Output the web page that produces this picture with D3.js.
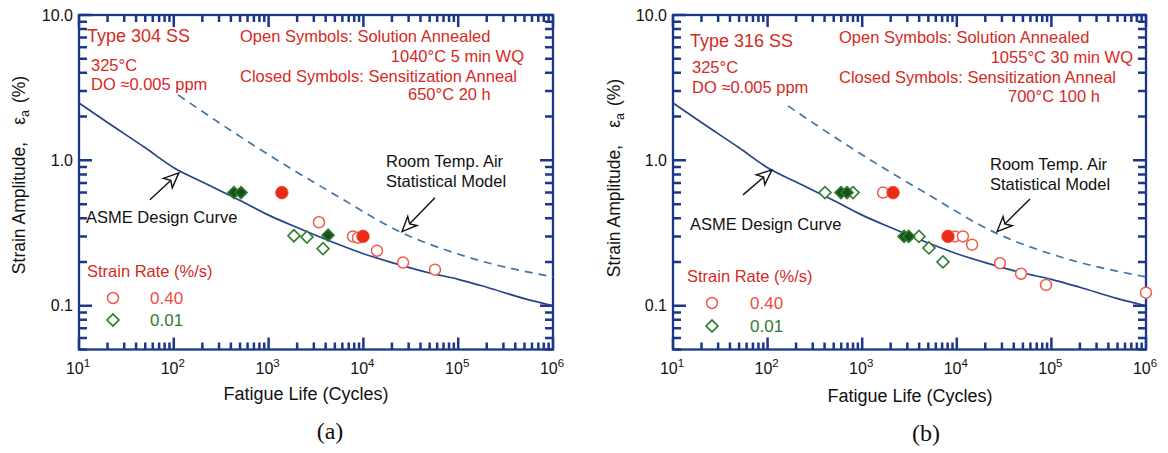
<!DOCTYPE html>
<html>
<head>
<meta charset="utf-8">
<script src="https://cdn.jsdelivr.net/npm/d3@7"></script>
<style>
  body { margin: 0; background: #fff; }
  svg text { font-family: "Liberation Sans", Arial, Helvetica, sans-serif; }
</style>
</head>
<body>
<div id="chart"></div>
<script>
// ---------- data ----------
const xDomain = [10, 1e6];
const yDomain = [0.05, 10];
const xMajorTicks = [10, 100, 1000, 1e4, 1e5, 1e6];
const yMajorTicks = [0.1, 1, 10];
const yTickLabels = ['0.1', '1.0', '10.0'];

// ASME design curve (both panels)
const asmeN   = [10, 20, 50, 100, 200, 500, 1000, 2000, 5000, 1e4, 2e4, 5e4, 1e5, 2e5, 5e5, 1e6];
const asmeEps = [2.48, 1.82, 1.22, 0.89, 0.71, 0.53, 0.42, 0.345, 0.27, 0.228, 0.198, 0.168, 0.152, 0.134, 0.112, 0.10];

// room temp. air statistical model (dashed)
const airN_a   = [111, 421, 1808, 4450, 25500, 133000, 1e6];
const airEps_a = [2.82, 1.57, 0.861, 0.608, 0.318, 0.214, 0.158];
const airN_b   = [164, 421, 1808, 4450, 25500, 133000, 1e6];
const airEps_b = [2.37, 1.57, 0.861, 0.608, 0.318, 0.214, 0.158];

// Type 304 SS
const a304OpenCircN   = [3400, 7760, 8770, 13900, 26200, 56900];
const a304OpenCircEps = [0.375, 0.30, 0.294, 0.239, 0.198, 0.177];
const a304FillCircN   = [1380, 9910];
const a304FillCircEps = [0.60, 0.30];
const a304OpenDiaN    = [1850, 2540, 3750];
const a304OpenDiaEps  = [0.303, 0.297, 0.247];
const a304FillDiaN    = [431, 512, 4240];
const a304FillDiaEps  = [0.60, 0.60, 0.306];

// Type 316 SS
const b316OpenCircN   = [1660, 9580, 11600, 14500, 28600, 47800, 87700, 1e6];
const b316OpenCircEps = [0.60, 0.30, 0.30, 0.263, 0.196, 0.166, 0.139, 0.123];
const b316FillCircN   = [2120, 8070];
const b316FillCircEps = [0.60, 0.30];
const b316OpenDiaN    = [404, 800, 3980, 5080, 7140];
const b316OpenDiaEps  = [0.60, 0.60, 0.30, 0.250, 0.200];
const b316FillDiaN    = [597, 690, 2770, 3100];
const b316FillDiaEps  = [0.60, 0.60, 0.30, 0.30];

const zip = (a, b) => a.map((v, i) => [v, b[i]]);

// ---------- style ----------
const axisColor = '#1a378c';
const asmeColor = '#24438a';
const airColor = '#4474a6';
const redText = '#d42a25';
const openRed = '#ee5a48';
const fillRed = '#ec2b17';
const green = '#2f7d2f';
const darkGreen = '#1b4f1b';

const svg = d3.select('#chart').append('svg')
  .attr('width', 1168).attr('height', 453);

const panels = [
  {
    left: 79, right: 553, top: 15, bottom: 349.5,
    air: zip(airN_a, airEps_a),
    openCirc: zip(a304OpenCircN, a304OpenCircEps), fillCirc: zip(a304FillCircN, a304FillCircEps),
    openDia: zip(a304OpenDiaN, a304OpenDiaEps), fillDia: zip(a304FillDiaN, a304FillDiaEps),
    asmeArrow: [[56, 0.536], [113, 0.82]], airArrow: [[56900, 0.553], [25500, 0.323]],
    texts: [
      { t: 'Type 304 SS', x: 87, y: 42, size: 18, c: redText },
      { t: '325°C', x: 91, y: 71, c: redText },
      { t: 'DO ≈0.005 ppm', x: 91, y: 90, c: redText },
      { t: 'Open Symbols: Solution Annealed', x: 240, y: 42, c: redText },
      { t: '1040°C 5 min WQ', x: 524, y: 62, c: redText, anchor: 'end' },
      { t: 'Closed Symbols: Sensitization Anneal', x: 240, y: 82, c: redText },
      { t: '650°C 20 h', x: 408, y: 100, c: redText },
      { t: 'Room Temp. Air', x: 386, y: 167, c: '#111' },
      { t: 'Statistical Model', x: 386, y: 187, c: '#111' },
      { t: 'ASME Design Curve', x: 86, y: 223, c: '#111' },
      { t: 'Strain Rate (%/s)', x: 87, y: 277, c: redText }
    ],
    legend: { mx: 113, tx: 150, y1: 298, y2: 320 },
    xLabel: { x: 306, y: 400 }, yLabel: { x: 19, y: 175 },
    caption: { t: '(a)', x: 330, y: 439 }
  },
  {
    left: 673, right: 1146, top: 15, bottom: 349.5,
    air: zip(airN_b, airEps_b),
    openCirc: zip(b316OpenCircN, b316OpenCircEps), fillCirc: zip(b316FillCircN, b316FillCircEps),
    openDia: zip(b316OpenDiaN, b316OpenDiaEps), fillDia: zip(b316FillDiaN, b316FillDiaEps),
    asmeArrow: [[55, 0.579], [111, 0.86]], airArrow: [[59400, 0.543], [26600, 0.323]],
    texts: [
      { t: 'Type 316 SS', x: 690, y: 47, size: 18, c: redText },
      { t: '325°C', x: 692, y: 73, c: redText },
      { t: 'DO ≈0.005 ppm', x: 692, y: 93, c: redText },
      { t: 'Open Symbols: Solution Annealed', x: 839, y: 43, c: redText },
      { t: '1055°C 30 min WQ', x: 1133, y: 63, c: redText, anchor: 'end' },
      { t: 'Closed Symbols: Sensitization Anneal', x: 839, y: 83, c: redText },
      { t: '700°C 100 h', x: 1008, y: 102, c: redText },
      { t: 'Room Temp. Air', x: 990, y: 170, c: '#111' },
      { t: 'Statistical Model', x: 990, y: 190, c: '#111' },
      { t: 'ASME Design Curve', x: 690, y: 230, c: '#111' },
      { t: 'Strain Rate (%/s)', x: 687, y: 282, c: redText }
    ],
    legend: { mx: 712, tx: 750, y1: 303, y2: 326 },
    xLabel: { x: 910, y: 402 }, yLabel: { x: 614, y: 178 },
    caption: { t: '(b)', x: 926, y: 441 }
  }
];

const diamond = d3.symbol(d3.symbolSquare, 72);

function drawArrow(g, x, y, pts) {
  const [x0, y0] = [x(pts[0][0]), y(pts[0][1])];
  const [x1, y1] = [x(pts[1][0]), y(pts[1][1])];
  const ang = Math.atan2(y1 - y0, x1 - x0) * 180 / Math.PI;
  const len = Math.hypot(x1 - x0, y1 - y0);
  const a = g.append('g').attr('transform', `translate(${x0},${y0}) rotate(${ang})`);
  a.append('line').attr('x1', 0).attr('y1', 0).attr('x2', len - 10).attr('y2', 0)
    .attr('stroke', '#111').attr('stroke-width', 1.4);
  a.append('path')
    .attr('d', `M${len},0 L${len - 15},-6.5 L${len - 11},0 L${len - 15},6.5 Z`)
    .attr('fill', '#fff').attr('stroke', '#111').attr('stroke-width', 1.4)
    .attr('stroke-linejoin', 'miter');
}

panels.forEach(p => {
  const x = d3.scaleLog().domain(xDomain).range([p.left, p.right]);
  const y = d3.scaleLog().domain(yDomain).range([p.bottom, p.top]);
  const g = svg.append('g');

  // minor / major tick values
  const xMinor = [];
  for (let e = 1; e < 6; e++) for (let m = 2; m <= 9; m++) xMinor.push(m * Math.pow(10, e));
  const yMinor = [];
  for (let e = -2; e <= 0; e++) for (let m = 2; m <= 9; m++) {
    const v = m * Math.pow(10, e);
    if (v >= 0.05) yMinor.push(v);
  }
  const xTicks = xMinor.map(v => [v, 7]).concat(xMajorTicks.map(v => [v, 12]));
  const yTicks = yMinor.map(v => [v, 8]).concat(yMajorTicks.map(v => [v, 13]));

  g.append('rect')
    .attr('x', p.left).attr('y', p.top)
    .attr('width', p.right - p.left).attr('height', p.bottom - p.top)
    .attr('fill', 'none').attr('stroke', axisColor).attr('stroke-width', 2.3);

  // inward ticks on all four sides, one path per side
  const tickPath = [
    xTicks.map(([v, l]) => `M${x(v)},${p.bottom}v${-l}`).join(''),
    xTicks.map(([v, l]) => `M${x(v)},${p.top}v${l}`).join(''),
    yTicks.map(([v, l]) => `M${p.left},${y(v)}h${l}`).join(''),
    yTicks.map(([v, l]) => `M${p.right},${y(v)}h${-l}`).join('')
  ];
  g.selectAll('path.tick').data(tickPath).enter().append('path')
    .attr('class', 'tick')
    .attr('d', d => d)
    .attr('fill', 'none')
    .attr('stroke', axisColor)
    .attr('stroke-width', 2.5);

  // tick labels
  g.selectAll('.ylab').data(yMajorTicks).enter().append('text')
    .attr('x', p.left - 6).attr('y', d => y(d)).attr('dy', '0.36em')
    .attr('text-anchor', 'end').attr('font-size', 16).attr('fill', '#111')
    .text((d, i) => yTickLabels[i]);

  const xl = g.selectAll('.xlab').data(xMajorTicks).enter().append('text')
    .attr('x', d => x(d) - 1).attr('y', 374)
    .attr('text-anchor', 'middle').attr('font-size', 16).attr('fill', '#111');
  xl.append('tspan').text('10');
  xl.append('tspan').attr('dy', -7).attr('font-size', 11.5).text(d => Math.round(Math.log10(d)));

  // curves
  const line = d3.line().x(d => x(d[0])).y(d => y(d[1])).curve(d3.curveMonotoneX);
  g.append('path').datum(zip(asmeN, asmeEps)).attr('d', line)
    .attr('fill', 'none').attr('stroke', asmeColor).attr('stroke-width', 1.7);
  g.append('path').datum(p.air).attr('d', line)
    .attr('fill', 'none').attr('stroke', airColor).attr('stroke-width', 1.7)
    .attr('stroke-dasharray', '8,6');

  // arrows
  drawArrow(g, x, y, p.asmeArrow);
  drawArrow(g, x, y, p.airArrow);

  // markers
  g.selectAll('.od').data(p.openDia).enter().append('path')
    .attr('d', diamond)
    .attr('transform', d => `translate(${x(d[0])},${y(d[1])}) rotate(45)`)
    .attr('fill', '#fff').attr('stroke', green).attr('stroke-width', 1.6);
  g.selectAll('.fd').data(p.fillDia).enter().append('path')
    .attr('d', diamond)
    .attr('transform', d => `translate(${x(d[0])},${y(d[1])}) rotate(45)`)
    .attr('fill', darkGreen).attr('stroke', green).attr('stroke-width', 1.6);
  g.selectAll('.oc').data(p.openCirc).enter().append('circle')
    .attr('cx', d => x(d[0])).attr('cy', d => y(d[1])).attr('r', 5.5)
    .attr('fill', '#fff').attr('stroke', openRed).attr('stroke-width', 1.5);
  g.selectAll('.fc').data(p.fillCirc).enter().append('circle')
    .attr('cx', d => x(d[0])).attr('cy', d => y(d[1])).attr('r', 6.3)
    .attr('fill', fillRed).attr('stroke', '#f04a30').attr('stroke-width', 0.8);

  // annotation texts
  p.texts.forEach(t => {
    g.append('text').attr('x', t.x).attr('y', t.y)
      .attr('text-anchor', t.anchor || 'start')
      .attr('font-size', t.size || 16.5).attr('fill', t.c).text(t.t);
  });

  // strain-rate legend
  const L = p.legend;
  g.append('circle').attr('cx', L.mx).attr('cy', L.y1).attr('r', 5.5)
    .attr('fill', 'none').attr('stroke', openRed).attr('stroke-width', 1.5);
  g.append('text').attr('x', L.tx).attr('y', L.y1).attr('dy', '0.36em')
    .attr('font-size', 17).attr('fill', '#ee4c3c').text('0.40');
  g.append('path').attr('d', diamond)
    .attr('transform', `translate(${L.mx},${L.y2}) rotate(45)`)
    .attr('fill', 'none').attr('stroke', green).attr('stroke-width', 1.6);
  g.append('text').attr('x', L.tx).attr('y', L.y2).attr('dy', '0.36em')
    .attr('font-size', 17).attr('fill', green).text('0.01');

  // axis titles
  g.append('text').attr('x', p.xLabel.x).attr('y', p.xLabel.y)
    .attr('text-anchor', 'middle').attr('font-size', 18).attr('fill', '#111')
    .text('Fatigue Life (Cycles)');

  const yl = g.append('text')
    .attr('transform', `translate(${p.yLabel.x},${p.yLabel.y}) rotate(-90)`)
    .attr('text-anchor', 'middle').attr('dy', '0.36em')
    .attr('font-size', 17.5).attr('fill', '#111');
  yl.append('tspan').text('Strain Amplitude,');
  yl.append('tspan').attr('dx', 17).text('ε');
  yl.append('tspan').attr('font-size', 12.5).attr('dy', 4).text('a');
  yl.append('tspan').attr('dx', 7).attr('dy', -4).text('(%)');

  g.append('text').attr('x', p.caption.x).attr('y', p.caption.y)
    .attr('text-anchor', 'middle')
    .style('font-family', '"Liberation Serif", "Times New Roman", serif')
    .attr('font-size', 24).attr('fill', '#111').text(p.caption.t);
});
</script>
</body>
</html>
